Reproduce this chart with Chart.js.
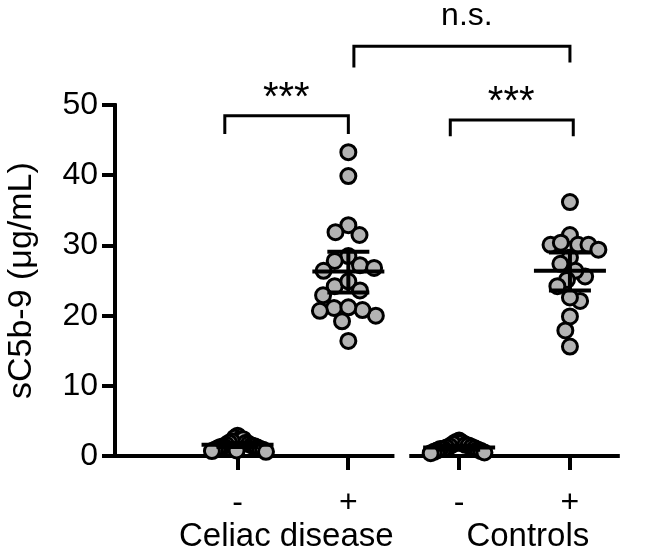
<!DOCTYPE html>
<html>
<head>
<meta charset="utf-8">
<script src="https://cdn.jsdelivr.net/npm/chart.js@4"></script>
<style>
  html, body { margin: 0; padding: 0; background: #fff; }
</style>
</head>
<body>
<canvas id="chartC5b9" width="658" height="551"></canvas>
<script>
// sC5b-9 — dados

const groupLabels = ['Celiac disease', 'Controls'];
const tickLabels  = ['-', '+', '-', '+'];
const yTickValues = [0, 10, 20, 30, 40, 50];
const yTitle      = 'sC5b-9 (\u03bcg/mL)';

const celiacNeg   = [2.9, 2.6, 2.4, 2.4, 2.1, 1.9, 1.9, 1.7, 1.6, 1.5, 1.4, 1.4, 1.3, 1.2, 1.1, 1.0, 0.9, 0.9, 0.8, 0.7, 0.6];
const celiacPos   = [43.3, 39.9, 32.9, 31.5, 31.9, 28.5, 27.2, 27.8, 26.4, 26.8, 24.2, 24.9, 22.9, 23.6, 21.1, 20.7, 20.0, 20.8, 21.2, 19.2, 16.4];
const controlsNeg = [2.2, 2.0, 1.9, 1.7, 1.6, 1.5, 1.4, 1.3, 1.2, 1.1, 1.0, 1.0, 0.9, 0.8, 0.7, 0.6, 0.5, 0.4];
const controlsPos = [36.2, 31.5, 30.1, 30.1, 30.1, 30.4, 29.4, 28.3, 27.4, 25.6, 26.4, 25.1, 24.2, 22.1, 22.6, 19.9, 17.9, 15.6];

// média e IC 95%
const meanValues = [1.6, 26.3, 1.2, 26.4];
const ciLow      = [1.3, 23.3, 0.9, 23.6];
const ciHigh     = [1.9, 29.1, 1.5, 29.0];

const compLabels = ['***', '***', 'n.s.'];

// Geometria
const FONTE   = '"Liberation Sans", Arial, sans-serif';
const X_MIN = -0.097, X_MAX = 4.70;
const Y_MIN = 0,      Y_MAX = 63.5;
const LARG_EIXO_Y = 116, ALT_EIXO_X = 95;
const PX_X = (658 - LARG_EIXO_Y) / (X_MAX - X_MIN);
const PX_Y = (551 - ALT_EIXO_X) / (Y_MAX - Y_MIN);

// beeswarm simples (em pixels), depois comprimido na largura máxima
function swarm(valores, centro) {
  const d = 16, meiaLargura = 29;
  const ordem = valores.map((v, i) => i).sort((a, b) => valores[b] - valores[a]);
  const colocados = [];
  ordem.forEach(i => {
    const py = valores[i] * PX_Y;
    const bloqueios = [];
    colocados.forEach(p => {
      const dy = Math.abs(p.py - py);
      if (dy < d) {
        const w = Math.sqrt(d * d - dy * dy);
        bloqueios.push([p.px - w, p.px + w]);
      }
    });
    const candidatos = [0];
    bloqueios.forEach(b => candidatos.push(b[0], b[1]));
    let melhor = null;
    candidatos.forEach(c => {
      if (bloqueios.some(b => c > b[0] + 1e-6 && c < b[1] - 1e-6)) return;
      if (melhor === null || Math.abs(c) < Math.abs(melhor) - 1e-6) melhor = c;
    });
    colocados.push({ i, px: melhor, py });
  });
  const maior = Math.max(1, ...colocados.map(p => Math.abs(p.px)));
  const k = Math.min(1, meiaLargura / maior);
  return colocados.sort((a, b) => a.i - b.i).map(p => ({ x: centro + p.px * k / PX_X, y: valores[p.i] }));
}

const grupos = [celiacNeg, celiacPos, controlsNeg, controlsPos];

// Eixos, barras de erro, colchetes e textos
const pluginDecor = {
  id: 'decor',
  beforeDatasetsDraw(chart) {
    const { ctx, scales: { x, y } } = chart;
    ctx.save();
    ctx.strokeStyle = '#000';
    ctx.lineWidth = 4;
    ctx.lineCap = 'butt';
    const x0 = x.getPixelForValue(X_MIN) - 1;
    const yb = y.getPixelForValue(0);
    ctx.beginPath();
    ctx.moveTo(x0, yb + 2);
    ctx.lineTo(x0, y.getPixelForValue(50) - 2);
    ctx.moveTo(x0 - 2, yb);
    ctx.lineTo(x.getPixelForValue(2.416), yb);
    ctx.moveTo(x.getPixelForValue(2.55), yb);
    ctx.lineTo(x.getPixelForValue(4.45), yb);
    ctx.stroke();
    ctx.restore();
  },
  afterDatasetsDraw(chart) {
    const { ctx, scales: { x, y } } = chart;
    ctx.save();
    ctx.strokeStyle = '#000';
    ctx.fillStyle = '#000';

    // média ± IC
    ctx.lineWidth = 4;
    meanValues.forEach((m, i) => {
      const cx = x.getPixelForValue(i + 1);
      const ym = y.getPixelForValue(m), yl = y.getPixelForValue(ciLow[i]), yh = y.getPixelForValue(ciHigh[i]);
      ctx.beginPath();
      ctx.moveTo(cx - 36, ym); ctx.lineTo(cx + 36, ym);
      ctx.moveTo(cx - 21, yl); ctx.lineTo(cx + 21, yl);
      ctx.moveTo(cx - 21, yh); ctx.lineTo(cx + 21, yh);
      ctx.moveTo(cx, yl); ctx.lineTo(cx, yh);
      ctx.stroke();
    });

    // colchetes de comparação
    const colchetes = [
      { de: 0.885, ate: 2.0,  topo: 48.5, pe1: 46.1, pe2: 46.1, tx: 1.44 },
      { de: 2.92,  ate: 4.03, topo: 47.9, pe1: 45.8, pe2: 45.8, tx: 3.47 },
      { de: 2.05,  ate: 4.0,  topo: 58.4, pe1: 55.6, pe2: 56.3, tx: 3.07 }
    ];
    ctx.lineWidth = 3;
    ctx.lineCap = 'square';
    ctx.textAlign = 'center';
    ctx.textBaseline = 'alphabetic';
    colchetes.forEach((c, i) => {
      const xa = x.getPixelForValue(c.de), xb = x.getPixelForValue(c.ate), yt = y.getPixelForValue(c.topo);
      ctx.beginPath();
      ctx.moveTo(xa, y.getPixelForValue(c.pe1));
      ctx.lineTo(xa, yt);
      ctx.lineTo(xb, yt);
      ctx.lineTo(xb, y.getPixelForValue(c.pe2));
      ctx.stroke();
      const ns = compLabels[i] === 'n.s.';
      ctx.font = (ns ? '32px ' : '40px ') + FONTE;
      ctx.fillText(compLabels[i], x.getPixelForValue(c.tx), yt - (ns ? 21 : 6));
    });

    // rótulos dos grupos
    ctx.font = '33px ' + FONTE;
    ctx.fillText(groupLabels[0], x.getPixelForValue(1.44), 546);
    ctx.fillText(groupLabels[1], x.getPixelForValue(3.62), 546);

    // título do eixo y (centrado na faixa 0–50)
    ctx.font = '34px ' + FONTE;
    ctx.translate(22, (y.getPixelForValue(0) + y.getPixelForValue(50)) / 2);
    ctx.rotate(-Math.PI / 2);
    ctx.textBaseline = 'middle';
    ctx.fillText(yTitle, 0, 0);
    ctx.restore();
  }
};

const contexto = document.getElementById('chartC5b9').getContext('2d');

const grafico = new Chart(contexto, {
  type: 'scatter',
  data: {
    datasets: grupos.map((vals, i) => ({
      data: swarm(vals, i + 1),
      pointRadius: 7.5,
      pointHoverRadius: 7.5,
      borderWidth: 3,
      borderColor: '#000',
      backgroundColor: '#b3b3b3',
      clip: false
    }))
  },
  options: {
    responsive: false,
    animation: false,
    layout: { padding: 0 },
    plugins: { legend: { display: false }, tooltip: { enabled: false } },
    scales: {
      x: {
        type: 'linear',
        min: X_MIN, max: X_MAX,
        afterBuildTicks: s => { s.ticks = tickLabels.map((t, i) => ({ value: i + 1 })); },
        afterFit: s => { s.height = ALT_EIXO_X; s.paddingLeft = 0; s.paddingRight = 0; },
        ticks: { callback: (v, i) => tickLabels[i], color: '#000', font: { size: 32, family: FONTE }, padding: 14, maxRotation: 0, autoSkip: false },
        grid: { drawOnChartArea: false, drawTicks: true, tickLength: 14, lineWidth: 4, color: '#000' },
        border: { display: false }
      },
      y: {
        min: Y_MIN, max: Y_MAX,
        afterBuildTicks: s => { s.ticks = yTickValues.map(v => ({ value: v })); },
        afterFit: s => { s.width = LARG_EIXO_Y; s.paddingTop = 0; s.paddingBottom = 0; },
        ticks: { color: '#000', font: { size: 32, family: FONTE }, padding: 4 },
        grid: { drawOnChartArea: false, drawTicks: true, tickLength: 14, lineWidth: 4, color: '#000' },
        border: { display: false }
      }
    }
  },
  plugins: [pluginDecor]
});
</script>
</body>
</html>
